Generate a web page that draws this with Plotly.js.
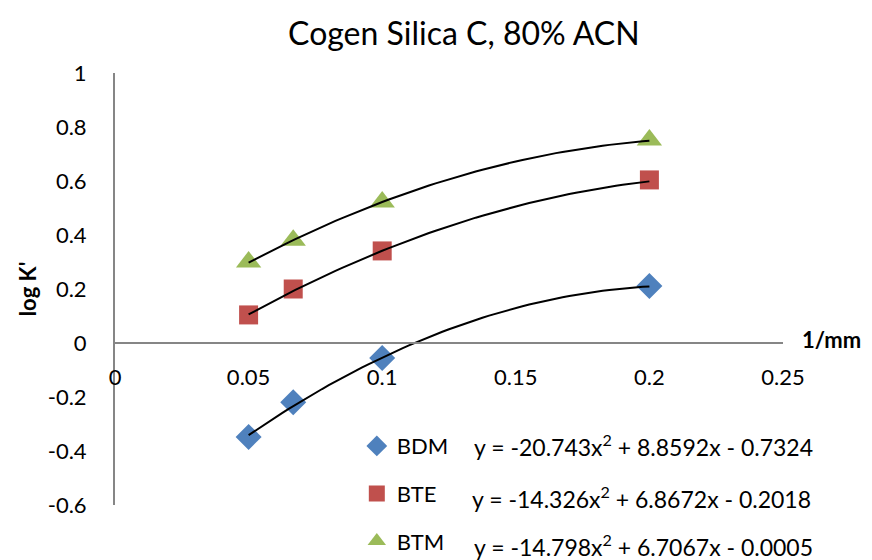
<!DOCTYPE html>
<html>
<head>
<meta charset="utf-8">
<script src="https://cdn.plot.ly/plotly-3.0.1.min.js"></script>
<style>html,body{margin:0;padding:0;background:#fff;}#chart{width:872px;height:560px;}</style>
</head>
<body>
<div id="chart"></div>
<script>
// ---- data ----
var xValues = [0.05, 0.0667, 0.1, 0.2];
var seriesNames = ['BDM', 'BTE', 'BTM'];
var bdmValues = [-0.348, -0.219, -0.056, 0.211];
var bteValues = [0.104, 0.200, 0.341, 0.604];
var btmValues = [0.300, 0.381, 0.522, 0.752];
// trendline coefficients (a x^2 + b x + c) as printed on the chart
var bdmCoef = [-20.743, 8.8592, -0.7324];
var bteCoef = [-14.326, 6.8672, -0.2018];
var btmCoef = [-14.798, 6.7067, -0.0005];
var equationTexts = [
  'y = -20.743x<sup>2</sup> + 8.8592x - 0.7324',
  'y = -14.326x<sup>2</sup> + 6.8672x - 0.2018',
  'y = -14.798x<sup>2</sup> + 6.7067x - 0.0005'
];
var xTickVals = [0, 0.05, 0.1, 0.15, 0.2, 0.25];
var xTickText = ['0', '0.05', '0.1', '0.15', '0.2', '0.25'];
var yTickVals = [-0.6, -0.4, -0.2, 0, 0.2, 0.4, 0.6, 0.8, 1];
var yTickText = ['-0.6', '-0.4', '-0.2', '0', '0.2', '0.4', '0.6', '0.8', '1'];

// ---- styles ----
var FONT = 'Lato, "Open Sans", sans-serif';
var colors = ['#4F81BD', '#C0504D', '#9BBB59'];
var symbols = ['diamond', 'square', 'triangle-up'];
var sizes = [20, 19, 22];
var values = [bdmValues, bteValues, btmValues];
var coefs = [bdmCoef, bteCoef, btmCoef];

var traces = [];
for (var i = 0; i < 3; i++) {
  traces.push({
    x: xValues, y: values[i], name: seriesNames[i], type: 'scatter', mode: 'markers',
    legendgroup: 'g' + i,
    marker: {symbol: symbols[i], size: sizes[i], color: colors[i], line: {width: 0}}
  });
}
// trendlines evaluated from printed coefficients over the data's x span
for (var j = 0; j < 3; j++) {
  var xs = [], ys = [];
  var x0 = xValues[0], x1 = xValues[xValues.length - 1];
  for (var k = 0; k <= 60; k++) {
    var xx = x0 + (x1 - x0) * k / 60;
    xs.push(xx);
    ys.push(coefs[j][0] * xx * xx + coefs[j][1] * xx + coefs[j][2]);
  }
  traces.push({x: xs, y: ys, type: 'scatter', mode: 'lines', showlegend: false,
    hoverinfo: 'skip', line: {color: '#000', width: 2}});
}

var yRange = [-0.6, 1];
var zeroPos = (0 - yRange[0]) / (yRange[1] - yRange[0]);

var annotations = [{
  text: '<b>1/mm</b>', xref: 'paper', yref: 'paper', x: 1.025, y: zeroPos,
  xanchor: 'left', yanchor: 'middle', yshift: 4, showarrow: false,
  font: {family: FONT, size: 22, color: '#000'}
}];
var eqY = [0.1366, 0.0185, -0.0949];
var eqX = [0.534, 0.531, 0.534];
for (var m = 0; m < 3; m++) {
  annotations.push({text: equationTexts[m], xref: 'paper', yref: 'paper', x: eqX[m], y: eqY[m],
    xanchor: 'left', yanchor: 'middle', showarrow: false,
    font: {family: FONT, size: 23, color: '#000'}});
}

var layout = {
  width: 872, height: 560,
  margin: {l: 115, r: 89, t: 73, b: 55, autoexpand: false},
  paper_bgcolor: '#fff', plot_bgcolor: '#fff',
  font: {family: FONT, size: 22, color: '#000'},
  title: {text: 'Cogen Silica C, 80% ACN', font: {family: FONT, size: 32, color: '#000'},
    x: 0.532, xanchor: 'center', y: 0.94, yanchor: 'middle'},
  showlegend: true,
  legend: {x: 0.362, y: 0.185, xanchor: 'left', yanchor: 'top', bgcolor: 'rgba(0,0,0,0)',
    tracegroupgap: 16, font: {family: FONT, size: 22, color: '#000'}},
  xaxis: {range: [0, 0.25], anchor: 'free', position: zeroPos, showgrid: false, zeroline: false,
    showline: true, linecolor: '#868686', linewidth: 2, ticks: '',
    tickvals: xTickVals, ticktext: xTickText, ticklabelstandoff: 15,
    tickfont: {family: FONT, size: 22, color: '#000'}},
  yaxis: {range: yRange, showgrid: false, zeroline: false, showline: true,
    linecolor: '#868686', linewidth: 2, ticks: '',
    tickvals: yTickVals, ticktext: yTickText, ticklabelstandoff: 22,
    tickfont: {family: FONT, size: 22, color: '#000'},
    title: {text: '<b>log K\'</b>', font: {family: FONT, size: 22, color: '#000'}, standoff: 5}},
  annotations: annotations
};

Plotly.newPlot('chart', traces, layout, {displayModeBar: false, staticPlot: true});
</script>
</body>
</html>
